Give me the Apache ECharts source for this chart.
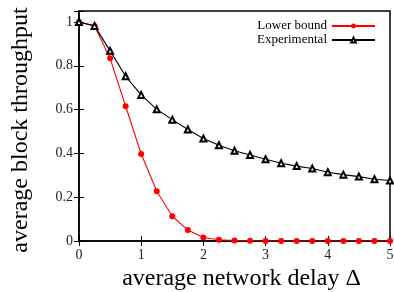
<!DOCTYPE html>
<html>
<head>
<meta charset="utf-8">
<script src="https://cdn.jsdelivr.net/npm/echarts@6/dist/echarts.min.js"></script>
<style>
  html, body { margin: 0; padding: 0; background: #fff; }
  #chart { width: 394px; height: 292px; }
</style>
</head>
<body>
<div id="chart"></div>
<script>
// delay values, 0 .. 5 step 0.25
const delays = [0, 0.25, 0.5, 0.75, 1, 1.25, 1.5, 1.75, 2, 2.25, 2.5,
  2.75, 3, 3.25, 3.5, 3.75, 4, 4.25, 4.5, 4.75, 5]
const lowerBound = [1, 0.982, 0.834, 0.615, 0.397, 0.227, 0.113, 0.05, 0.016, 0.006, 0.002,
  0.001, 0, 0, 0, 0, 0, 0, 0, 0, 0]
const experimental = [1, 0.982, 0.868, 0.752, 0.667, 0.601, 0.554, 0.509, 0.468, 0.437, 0.412,
  0.393, 0.373, 0.355, 0.342, 0.331, 0.314, 0.303, 0.294, 0.282, 0.276]
const xTicks = [0, 1, 2, 3, 4, 5]
const yTicks = [0, 0.2, 0.4, 0.6, 0.8, 1]

const font = '"Liberation Serif", "DejaVu Serif", serif'

const chart = echarts.init(document.getElementById('chart'))

const pairs = (ys) => delays.map((x, i) => [x, ys[i]])

chart.setOption({
  animation: false,
  textStyle: { fontFamily: font },
  grid: {
    left: 79,
    right: 4,
    top: 11,
    bottom: 51,
    outerBoundsMode: 'none',
    containLabel: false,
    show: true,
    borderColor: '#000',
    borderWidth: 1.5
  },
  legend: {
    top: 14,
    right: 13,
    orient: 'vertical',
    align: 'right',
    itemWidth: 43,
    itemHeight: 6,
    itemGap: 0,
    textStyle: { fontFamily: font, fontSize: 13, color: '#000', lineHeight: 14 },
    data: ['Lower bound', 'Experimental']
  },
  xAxis: [{
    type: 'value',
    min: 0,
    max: 5,
    interval: 1,
    name: 'average network delay Δ',
    nameLocation: 'middle',
    nameGap: 19,
    nameTextStyle: { fontFamily: font, fontSize: 24, color: '#000', padding: [0, 0, 0, 14] },
    axisLine: { lineStyle: { color: '#000', width: 1.5 } },
    axisTick: { inside: true, length: 5, lineStyle: { color: '#000' } },
    axisLabel: {
      margin: 7, fontFamily: font, fontSize: 14, color: '#222',
      formatter: v => xTicks.includes(v) ? String(v) : ''
    },
    splitLine: { show: false }
  }, {
    type: 'value',
    position: 'top',
    min: 0,
    max: 5,
    interval: 1,
    axisLine: { show: false },
    axisTick: { inside: true, length: 5, lineStyle: { color: '#000' } },
    axisLabel: { show: false },
    splitLine: { show: false }
  }],
  yAxis: [{
    type: 'value',
    min: 0,
    max: 1.05,
    interval: 0.2,
    name: 'average block throughput',
    nameLocation: 'middle',
    nameGap: 46,
    nameTextStyle: { fontFamily: font, fontSize: 24, color: '#000', padding: [0, 8, 0, 0] },
    axisLine: { lineStyle: { color: '#000', width: 1.5 } },
    axisTick: { inside: true, length: 5, lineStyle: { color: '#000' } },
    axisLabel: {
      margin: 6, fontFamily: font, fontSize: 14, color: '#222',
      formatter: v => {
        const r = Math.round(v * 10) / 10
        return yTicks.includes(r) && Math.abs(r - v) < 1e-6 ? String(r) : ''
      }
    },
    splitLine: { show: false }
  }, {
    type: 'value',
    position: 'right',
    min: 0,
    max: 1.05,
    interval: 0.2,
    axisLine: { show: false },
    axisTick: { inside: true, length: 5, lineStyle: { color: '#000' } },
    axisLabel: { show: false },
    splitLine: { show: false }
  }],
  series: [{
    name: 'Lower bound',
    type: 'line',
    data: pairs(lowerBound),
    symbol: 'circle',
    symbolSize: 6,
    color: '#ff0000',
    lineStyle: { width: 1.1, color: '#ff0000' },
    itemStyle: { color: '#ff0000' }
  }, {
    name: 'Experimental',
    type: 'line',
    data: pairs(experimental),
    symbol: 'emptyTriangle',
    symbolSize: 6,
    color: '#000',
    lineStyle: { width: 1.1, color: '#000' },
    itemStyle: { color: '#000', borderColor: '#000', borderWidth: 1 }
  }]
})
</script>
</body>
</html>
